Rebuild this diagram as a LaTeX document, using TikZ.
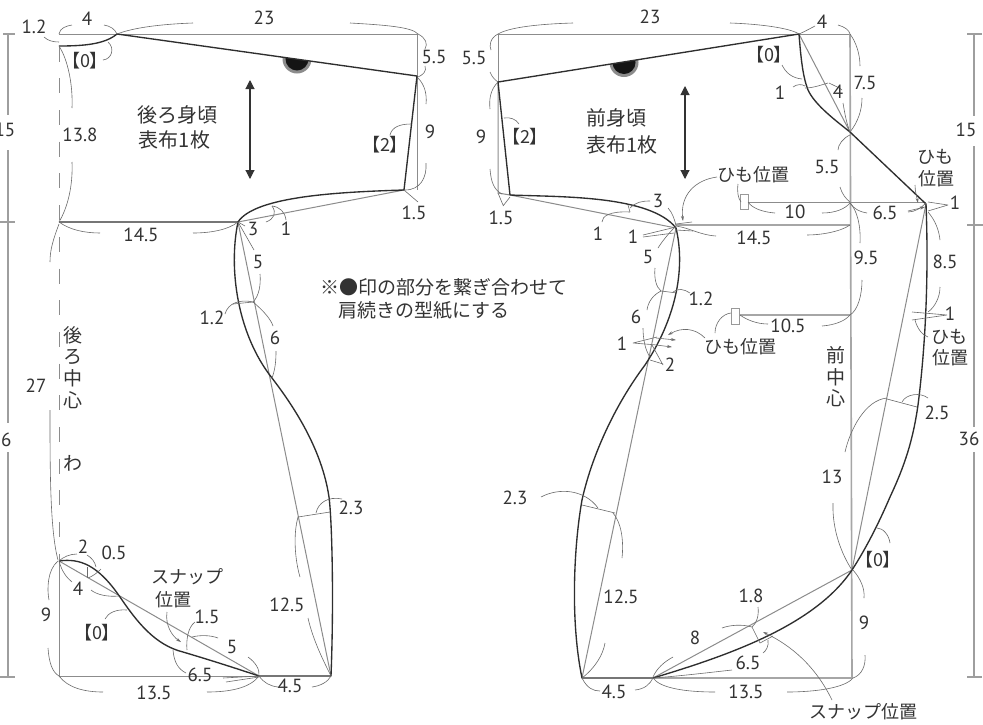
\documentclass[tikz,border=0pt]{standalone}
\usepackage{fontspec}
\usetikzlibrary{arrows.meta}
\setmainfont{PT Sans}
\newfontfamily\cjk{Noto Sans CJK JP}
\newfontfamily\cjkp[RawFeature={+palt}]{Noto Sans CJK JP}
\definecolor{ink}{gray}{0.2}
\definecolor{dimc}{gray}{0.42}
\definecolor{linec}{gray}{0.55}
\tikzset{
  main/.style={draw=black!82,line width=1.35pt,line join=round},
  thin/.style={draw=linec,line width=1pt},
  cf/.style={draw=black!35,line width=1.6pt},
  dim/.style={draw=dimc,line width=.6pt},
  dimarrow/.style={dim,-{Stealth[length=5pt,width=3pt]}},
  lab/.style={text=ink,inner sep=0pt,font=\fontsize{19}{19}\selectfont},
  jp/.style={text=ink,inner sep=0pt,font=\cjk\fontsize{20}{20}\selectfont},
  jn/.style={text=ink,inner sep=0pt,font=\cjk\fontsize{19}{19}\selectfont},
  jps/.style={text=ink,inner sep=0pt,font=\cjk\fontsize{18}{20}\selectfont},
  brk/.style={text=black!80,inner sep=0pt,font=\cjkp\fontsize{18}{18}\selectfont},
  grain/.style={draw=black!80,line width=1.1pt,{Triangle[length=9pt,width=9pt]}-{Triangle[length=9pt,width=9pt]}},
  tab/.style={draw=black!40,fill=white,line width=.8pt},
  scalebar/.style={draw=black!38,line width=1.3pt}
}
\newcounter{lb}
\newcommand{\lb}[3]{\stepcounter{lb}\node[lab] (lab\arabic{lb}) at (#1,#2) {#3};}
\newcommand{\jl}[3]{\stepcounter{lb}\node[jps] (lab\arabic{lb}) at (#1,#2) {#3};}
\newcommand{\jv}[3]{\stepcounter{lb}\node[jn] (lab\arabic{lb}) at (#1,#2) {#3};}
\newcommand{\bl}[3]{\stepcounter{lb}\node[brk] (lab\arabic{lb}) at (#1,#2) {【#3】};}
\begin{document}
\begin{tikzpicture}[x=1pt,y=-1pt]
\useasboundingbox (0,0) rectangle (983,724);
\fill[white] (0,0) rectangle (983,724);

%%% scale bars
\draw[scalebar] (8,34) -- (8,115) (8,150) -- (8,423) (8,452) -- (8,677);
\draw[scalebar] (3,34) -- (15,34) (0,222) -- (15,222) (0,677) -- (15,677);
\draw[scalebar] (974,34) -- (974,116) (974,146) -- (974,427) (974,452) -- (974,677);
\draw[scalebar] (967,34) -- (982,34) (967,225) -- (983,225) (967,677) -- (982,677);
\lb{5}{130}{15}
\lb{1}{440}{36}
\lb{966}{130}{15}
\lb{969}{439}{36}

%%% back: semicircle
\begin{scope}
\clip (117,34) -- (417,76) -- (417,110) -- (117,110) -- cycle;
\fill[black!45] (297,59) circle (14.5);
\fill[black!92] (297,59) circle (11.5);
\end{scope}
%%% back: thin lines
\draw[thin] (59,34) -- (417,34) -- (417,190);
\draw[thin] (404,190) -- (238,222);
\draw[thin] (238,222) -- (331,676);
\draw[thin] (59,561) -- (259,676);
\draw[thin] (59,561) -- (59,676) -- (259,676);
\draw[draw=black!45,line width=1pt,dash pattern=on 15pt off 16.7pt] (59,46.6) -- (59,560);
%%% back: main lines
\draw[main] (59,46) .. controls (85,46) and (105,44) .. (117,34) -- (417,76) -- (404,190)
  .. controls (340,192) and (255,196) .. (238,222) -- (59,222);
\draw[main] (238,222) .. controls (228,270) and (238,335) .. (272,378)
  .. controls (295,408) and (322,450) .. (329,497)
  .. controls (332,520) and (334,600) .. (331,676) -- (259,676);
\draw[main] (59,561) .. controls (80,558) and (98,565) .. (120,597)
  .. controls (137,622) and (155,645) .. (183,652)
  .. controls (210,660) and (235,668) .. (259,676);
\draw[dim] (298,517) -- (330,512);
\draw[grain] (250,80) -- (250,179);

%%% back: dimension arcs
\draw[dim] (59,34) .. controls (60,28) and (66,26) .. (72,25);
\draw[dim] (104,25) .. controls (110,26) and (115,29) .. (117,34);
\draw[dim] (117,34) .. controls (135,27) and (165,24) .. (193,23);
\draw[dim] (350,23) .. controls (385,25) and (412,27) .. (418,34);
\draw[dim] (44,37) .. controls (48,41) and (54,42) .. (59,42);
\draw[dim] (103,60) .. controls (112,59) and (115,48) .. (108,42);
\draw[dim] (418,34) .. controls (426,38) and (428,44) .. (425,49);
\draw[dim] (425,66) .. controls (427,71) and (423,75) .. (418,77);
\draw[dim] (418,78) .. controls (425,85) and (427,95) .. (426,104);
\draw[dim] (426,163) .. controls (427,178) and (420,190) .. (405,190);
\draw[dim] (390,135) .. controls (392,127) and (400,124) .. (411,124);
\draw[dim] (59,46) .. controls (68,60) and (73,85) .. (72,108);
\draw[dim] (72,162) .. controls (73,185) and (68,207) .. (59,222);
\draw[dim] (59,222) .. controls (70,230) and (85,233) .. (100,233);
\draw[dim] (193,233) .. controls (210,233) and (228,230) .. (238,222);
\draw[dim] (404,190) -- (418,202);
\draw[dim] (238,222) -- (245,226);
\draw[dim] (266,222) .. controls (274,219) and (277,213) .. (272,206);
\draw[dim] (272,206) .. controls (280,207) and (285,212) .. (286,220);
\draw[dim] (238,222) -- (254,250);
\draw[dim] (260,274) .. controls (261,285) and (259,296) .. (253,302);
\draw[dim] (225,314) .. controls (228,303) and (240,299) .. (253,302);
\draw[dim] (233,304) -- (253,302);
\draw[dim] (253,302) .. controls (265,312) and (271,320) .. (273,326);
\draw[dim] (276,351) .. controls (276,362) and (275,370) .. (272,378);
\draw[dim] (59,224) .. controls (53,240) and (50,250) .. (50,262);
\draw[dim] (50,410) .. controls (50,470) and (50,530) .. (58,560);
\draw[dim] (59,561) .. controls (63,557) and (70,554) .. (77,554);
\draw[dim] (87,555) .. controls (92,558) and (95,562) .. (96,567);
\draw[dim] (87,567) -- (87,578);
\draw[dim] (88,578) .. controls (93,576) and (97,573) .. (101,569);
\draw[dim] (59,561) .. controls (62,572) and (67,578) .. (72,582);
\draw[dim] (91,590) .. controls (97,595) and (108,597) .. (119,596);
\draw[dim] (58,561) .. controls (47,570) and (47,590) .. (49,600);
\draw[dim] (48,648) .. controls (49,662) and (52,672) .. (59,676);
\draw[dim] (105,619) .. controls (108,613) and (116,609) .. (127,610);
\draw[dimarrow] (167,612) .. controls (165,625) and (172,636) .. (181,642);
\draw[dim] (195,622) .. controls (188,627) and (186,640) .. (187,650);
\draw[dim] (192,637) .. controls (200,635) and (210,635) .. (218,638);
\draw[dim] (248,657) .. controls (255,662) and (260,669) .. (259,676);
\draw[dim] (173,650) .. controls (174,662) and (178,669) .. (186,673);
\draw[dim] (223,678) -- (259,676) (226,682) -- (259,677);
\draw[dim] (59,676) .. controls (68,688) and (85,692) .. (103,692);
\draw[dim] (207,692) .. controls (230,692) and (250,688) .. (259,676);
\draw[dim] (259,676) .. controls (264,683) and (270,686) .. (278,687);
\draw[dim] (312,687) .. controls (320,686) and (328,682) .. (331,676);
\draw[dim] (298,517) .. controls (293,535) and (295,560) .. (300,577);
\draw[dim] (308,618) .. controls (313,640) and (323,660) .. (331,676);
\draw[dim] (316,513) .. controls (318,503) and (328,496) .. (342,499);

%%% back: labels
\lb{87}{19}{4}
\lb{264}{18}{23}
\lb{34}{27}{1.2}
\bl{85}{61}{0}
\lb{434}{57}{5.5}
\lb{430}{132}{9}
\bl{385}{145}{2}
\lb{80}{135}{13.8}
\lb{141}{235}{14.5}
\lb{414}{213}{1.5}
\lb{253}{229}{3}
\lb{286}{229}{1}
\lb{258}{262}{5}
\lb{212}{318}{1.2}
\lb{275}{338}{6}
\lb{36}{386}{27}
\lb{83}{547}{2}
\lb{114}{553}{0.5}
\lb{78}{589}{4}
\lb{46}{615}{9}
\bl{97}{633}{0}
\lb{207}{617}{1.5}
\lb{232}{647}{5}
\lb{200}{675}{6.5}
\lb{154}{693}{13.5}
\lb{290}{686}{4.5}
\lb{287}{605}{12.5}
\lb{351}{508}{2.3}
\jl{187.5}{577}{スナップ}
\jl{173}{600}{位置}
\node[jp] (backA) at (177.5,115) {後ろ身頃};
\node[jp] (backB) at (174.5,140) {表布1枚};
\jv{73}{335}{後}
\jv{73}{357}{ろ}
\jv{73}{378}{中}
\jv{73}{400}{心}
\jv{73}{463}{わ}

%%% note
\node[jn,anchor=west] (noteA) at (320,287) {※●印の部分を繋ぎ合わせて};
\node[jn,anchor=west] (noteB) at (338,310) {肩続きの型紙にする};

%%% front: semicircle
\begin{scope}
\clip (498,82) -- (799,34) -- (799,110) -- (498,110) -- cycle;
\fill[black!45] (624,62.5) circle (14.5);
\fill[black!92] (624,62.5) circle (11.5);
\end{scope}
%%% front: thin lines
\draw[thin] (799,34) -- (850,34);
\draw[thin] (498,82) -- (498,34) -- (799,34);
\draw[thin] (498,82) -- (498,193) -- (510,195);
\draw[thin] (510,195) -- (676,228);
\draw[thin] (799,34) -- (850,132);
\draw[cf] (850,34) -- (852,678);
\draw[cf] (676,225) -- (850,225);
\draw[thin] (748,202) -- (926,202);
\draw[cf,line width=1.2pt] (739,315) -- (851,315);
\draw[thin] (926,204) -- (852,570);
\draw[thin] (852,570) -- (653,678);
\draw[thin] (676,228) -- (582,678);
\draw[cf] (653,678) -- (852,678);
\node[tab,minimum width=8pt,minimum height=15pt,inner sep=0pt] (tabA) at (744,201.5) {};
\node[tab,minimum width=8pt,minimum height=16pt,inner sep=0pt] (tabB) at (735,316) {};
%%% front: main lines
\draw[main] (510,195) -- (498,82) -- (799,34)
  .. controls (801,60) and (803,77) .. (808,90)
  .. controls (815,105) and (835,120) .. (850,132) -- (926,204)
  .. controls (929,280) and (925,350) .. (918,405)
  .. controls (913,440) and (905,465) .. (890,497)
  .. controls (878,525) and (865,550) .. (852,570)
  .. controls (815,625) and (730,655) .. (653,678) -- (582,678)
  .. controls (570,620) and (574,545) .. (582,500)
  .. controls (592,455) and (615,405) .. (645,365)
  .. controls (675,320) and (686,270) .. (676,228)
  .. controls (650,195) and (560,197) .. (510,195);
\draw[grain] (685,86) -- (685,179);

%%% front: dimension arcs
\draw[dim] (498,34) .. controls (510,27) and (540,24) .. (573,23);
\draw[dim] (730,23) .. controls (760,24) and (790,28) .. (799,34);
\draw[dim] (799,34) .. controls (806,31) and (811,28) .. (815,26);
\draw[dim] (838,25) .. controls (845,27) and (849,30) .. (850,34);
\draw[dim] (498,34) .. controls (490,38) and (489,46) .. (491,50);
\draw[dim] (490,72) .. controls (492,77) and (495,80) .. (498,82);
\draw[dim] (498,82) .. controls (490,90) and (489,100) .. (490,109);
\draw[dim] (490,169) .. controls (491,182) and (494,190) .. (502,194);
\draw[dim] (504,118) .. controls (510,117) and (516,119) .. (519,124);
\draw[dim] (498,193) -- (503,205) (510,197) -- (503,206);
\draw[dim] (602,222) .. controls (602,216) and (610,211) .. (630,212);
\draw[dim] (630,208) .. controls (636,202) and (642,201) .. (650,201);
\draw[dim] (628,205) -- (630,212);
\draw[dim] (668,208) .. controls (672,212) and (675,220) .. (676,226);
\draw[dim] (643,235) -- (676,227) (643,237) -- (674,233);
\draw[dim] (676,226) .. controls (690,228) and (700,235) .. (716,236);
\draw[dim] (807,235) .. controls (820,235) and (840,232) .. (850,225);
\draw[dimarrow] (717,177) .. controls (695,180) and (680,195) .. (683,221);
\draw[dim] (676,224) -- (692,222) (676,230) -- (693,231);
\draw[dim] (738,184) .. controls (737,192) and (738,198) .. (741,202);
\draw[dim] (748,202) .. controls (752,208) and (762,212) .. (775,213);
\draw[dim] (822,213) .. controls (835,213) and (845,209) .. (850,203);
\draw[dim] (850,203) .. controls (854,209) and (860,212) .. (867,213);
\draw[dim] (908,212) .. controls (915,212) and (921,208) .. (926,203);
\draw[dim] (948,205) -- (928,202) (948,205) -- (928,211);
\draw[dimarrow] (915,185) .. controls (915,192) and (917,198) .. (918,203);
\draw[dimarrow] (908,211) -- (925,207);
\draw[dim] (782,65) .. controls (786,73) and (792,78) .. (802,79);
\draw[dim] (793,87) .. controls (797,84) and (802,84) .. (805,86);
\draw[dim] (805,88) .. controls (813,88) and (821,85) .. (828,83);
\draw[dim] (829,83) .. controls (835,86) and (840,88) .. (842,90);
\draw[dim] (850,34) .. controls (856,42) and (860,54) .. (860,66);
\draw[dim] (862,98) .. controls (862,110) and (858,122) .. (850,132);
\draw[dim] (843,103) .. controls (845,115) and (847,125) .. (850,132);
\draw[dim] (850,135) .. controls (843,138) and (838,145) .. (838,150);
\draw[dim] (840,187) .. controls (842,194) and (846,199) .. (850,202);
\draw[dim] (850,203) .. controls (857,210) and (861,226) .. (860,243);
\draw[dim] (862,280) .. controls (862,295) and (858,310) .. (850,315);
\draw[dim] (740,315) .. controls (747,320) and (757,324) .. (768,324);
\draw[dim] (822,326) .. controls (835,325) and (845,321) .. (850,315);
\draw[dim] (715,333) .. controls (715,323) and (722,314) .. (731,313);
\draw[dimarrow] (705,338) .. controls (695,328) and (682,327) .. (668,335);
\draw[dim] (947,315) -- (912,312) (947,315) -- (912,320);
\draw[dim] (928,337) .. controls (922,335) and (917,328) .. (915,320);
\draw[dim] (928,212) .. controls (935,220) and (939,230) .. (940,240);
\draw[dim] (940,287) .. controls (940,297) and (935,307) .. (928,312);
\draw[dim] (633,343) -- (657,337) (633,343) -- (657,345);
\draw[dimarrow] (656,338) -- (676,340);
\draw[dimarrow] (656,345) -- (672,347);
\draw[dim] (663,365) -- (652,345) (663,364) -- (650,360);
\draw[dim] (658,248) .. controls (663,240) and (670,232) .. (675,227);
\draw[dim] (655,268) .. controls (654,278) and (656,287) .. (661,291);
\draw[dim] (661,291) -- (677,293);
\draw[dim] (690,293) .. controls (684,289) and (678,288) .. (673,292);
\draw[dim] (647,310) .. controls (648,302) and (653,295) .. (661,291);
\draw[dim] (643,328) .. controls (643,338) and (645,350) .. (650,357);
\draw[dim] (845,452) .. controls (850,430) and (865,400) .. (887,398);
\draw[dim] (887,399) -- (917,407);
\draw[dim] (902,402) .. controls (906,394) and (920,392) .. (928,398);
\draw[dim] (833,503) .. controls (832,530) and (842,555) .. (852,570);
\draw[dim] (877,528) .. controls (883,528) and (889,535) .. (890,543);
\draw[dim] (853,570) .. controls (860,578) and (865,588) .. (864,598);
\draw[dim] (865,655) .. controls (866,665) and (862,675) .. (853,678);
\draw[dim] (653,678) .. controls (660,688) and (685,692) .. (715,692);
\draw[dim] (787,692) .. controls (815,692) and (845,688) .. (853,678);
\draw[dim] (582,678) .. controls (587,688) and (593,691) .. (600,691);
\draw[dim] (635,690) .. controls (645,689) and (650,684) .. (653,678);
\draw[dim] (653,677) .. controls (657,668) and (664,662) .. (673,657);
\draw[dim] (722,628) .. controls (730,625) and (742,624) .. (752,627);
\draw[dim] (758,607) .. controls (759,615) and (757,623) .. (752,627);
\draw[dim] (752,627) -- (760,643) -- (773,636);
\draw[dim] (768,640) .. controls (769,646) and (766,651) .. (763,653);
\draw[dim] (732,670) .. controls (705,673) and (680,676) .. (653,678);
\draw[dimarrow] (832,700) .. controls (815,665) and (790,645) .. (763,632);
\draw[dim] (613,513) .. controls (621,522) and (624,540) .. (622,558);
\draw[dim] (605,643) .. controls (603,655) and (595,668) .. (582,678);
\draw[dim] (582,505) -- (615,513);
\draw[dim] (541,497) .. controls (560,487) and (585,490) .. (598,508);

%%% front: labels
\lb{650}{17}{23}
\lb{822}{22}{4}
\lb{474}{58}{5.5}
\lb{481}{137}{9}
\bl{525}{137}{2}
\lb{501}{218}{1.5}
\lb{598}{234}{1}
\lb{658}{201}{3}
\lb{633}{237}{1}
\lb{795}{212}{10}
\lb{885}{213}{6.5}
\lb{955}{203}{1}
\lb{754}{238}{14.5}
\bl{769}{55}{0}
\lb{780}{93}{1}
\lb{838}{92}{4}
\lb{865}{83}{7.5}
\lb{827}{167}{5.5}
\lb{866}{258}{9.5}
\lb{788}{326}{10.5}
\lb{950}{314}{1}
\lb{945}{262}{8.5}
\lb{622}{344}{1}
\lb{670}{365}{2}
\lb{648}{257}{5}
\lb{701}{299}{1.2}
\lb{636}{317}{6}
\lb{937}{413}{2.5}
\lb{832}{477}{13}
\bl{878}{560}{0}
\lb{864}{623}{9}
\lb{746}{692}{13.5}
\lb{614}{692}{4.5}
\lb{695}{638}{8}
\lb{751}{596}{1.8}
\lb{748}{663}{6.5}
\lb{621}{597}{12.5}
\lb{515}{498}{2.3}
\jl{753.5}{175}{ひも位置}
\jl{935}{157}{ひも}
\jl{936}{179}{位置}
\jl{740}{347}{ひも位置}
\jl{949}{337}{ひも}
\jl{950}{358}{位置}
\jl{863}{712}{スナップ位置}
\node[jp] (frontA) at (616.5,118) {前身頃};
\node[jp] (frontB) at (622,145) {表布1枚};
\jv{836}{355}{前}
\jv{836}{377}{中}
\jv{836}{398}{心}
\end{tikzpicture}
\end{document}
